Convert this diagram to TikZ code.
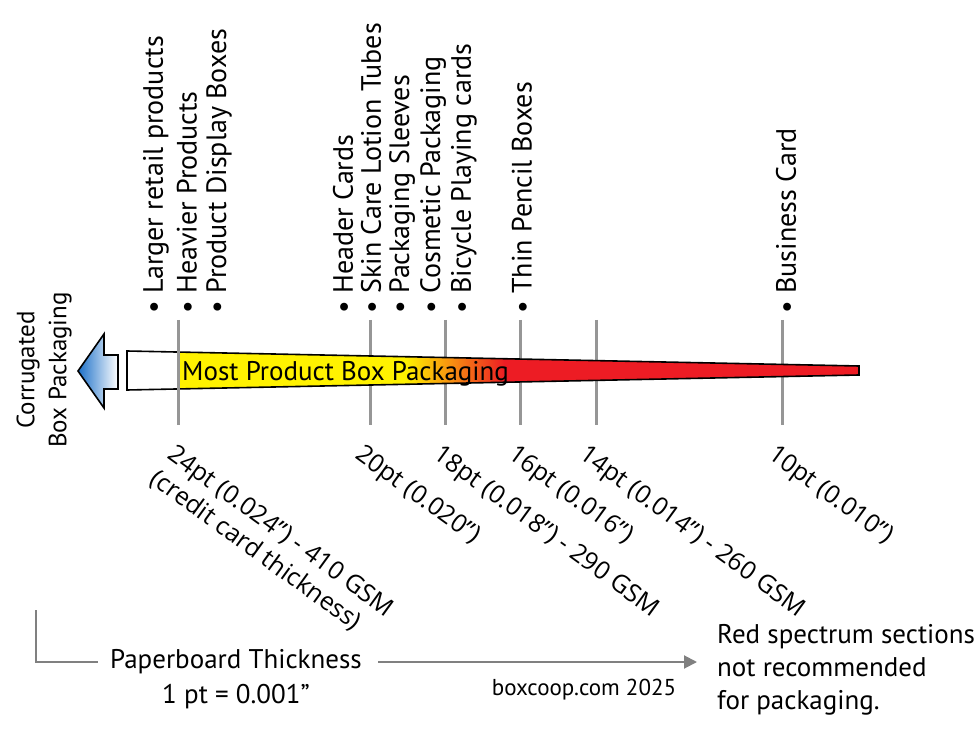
\documentclass[tikz,border=0pt]{standalone}
\usepackage{fontspec}
\setmainfont{PT Sans}
\newfontfamily\gaugefont{Open Sans}
\usepackage{tikz}
\usetikzlibrary{arrows.meta}

\definecolor{tickgray}{RGB}{150,150,150}
\definecolor{scalegray}{RGB}{128,128,128}
\definecolor{boxyellow}{RGB}{255,242,0}
\definecolor{boxred}{RGB}{237,28,36}
\definecolor{arrowblue}{RGB}{28,112,200}

\begin{document}
\begin{tikzpicture}
		[x=1pt,y=-1pt,line cap=round,
		%Styles
		tick line/.style={draw=tickgray,line width=3pt,line cap=butt},
		use label/.style={rotate=90,anchor=west,inner sep=0pt,font=\fontsize{28}{32}\selectfont},
		gauge label/.style={rotate=-36,anchor=north west,inner sep=0pt,align=left,font=\gaugefont\fontsize{25}{30}\selectfont},
		plain text/.style={inner sep=0pt,font=\fontsize{27}{33}\selectfont},
		scale line/.style={draw=scalegray,line width=2pt,line cap=butt},
		outline/.style={draw=black,line width=1.6pt,line join=miter}
		]
		
		\useasboundingbox (0,0) rectangle (980,743);
		
		%The scale ticks (behind the board)
		\foreach \x in {370,445,520,596,782}
			\draw[tick line] (\x,320) -- (\x,425);
		
		%The board wedge
		\begin{scope}
			\clip (127,351) -- (859,366) -- (859,375) -- (127,390) -- cycle;
			\fill[white] (127,340) rectangle (178,400);
			\fill[boxyellow] (177,340) rectangle (406,400);
			\shade[left color=boxyellow,right color=boxred] (405,340) rectangle (505,400);
			\fill[boxred] (504,340) rectangle (860,400);
		\end{scope}
		\draw[outline] (127,351) -- (859,366) -- (859,375) -- (127,390) -- cycle;
		\draw[tick line] (178,320) -- (178,425);
		\node[inner sep=0pt,anchor=base west,font=\fontsize{27}{32}\selectfont] (most) at (182,380) {Most Product Box Packaging};
		
		%Corrugated arrow
		\shadedraw[outline,left color=arrowblue,right color=white] (78,371) -- (104,334) -- (104,355) -- (118,355) -- (118,389) -- (104,389) -- (104,408) -- cycle;
		\node[inner sep=0pt,rotate=90,align=center,font=\fontsize{25}{32}\selectfont] (corr) at (44,370) {Corrugated\\Box Packaging};
		
		%Uses
		\node[use label] (larger) at (156,314) {\textbullet\ Larger retail products};
		\node[use label] (heavier) at (187,314) {\textbullet\ Heavier Products};
		\node[use label] (display) at (219,314) {\textbullet\ Product Display Boxes};
		\node[use label] (header) at (343,314) {\textbullet\ Header Cards};
		\node[use label] (skin) at (371,314) {\textbullet\ Skin Care Lotion Tubes};
		\node[use label] (sleeves) at (402,314) {\textbullet\ Packaging Sleeves};
		\node[use label] (cosmetic) at (433,314) {\textbullet\ Cosmetic Packaging};
		\node[use label] (bicycle) at (464,314) {\textbullet\ Bicycle Playing cards};
		\node[use label] (pencil) at (522,314) {\textbullet\ Thin Pencil Boxes};
		\node[use label] (business) at (786,314) {\textbullet\ Business Card};
		
		%Thickness values
		\node[gauge label] (g24) at (177,443) {24pt (0.024”) - 410 GSM\\(credit card thickness)};
		\node[gauge label] (g20) at (365,443) {20pt (0.020”)};
		\node[gauge label] (g18) at (443,443) {18pt (0.018”) - 290 GSM};
		\node[gauge label] (g16) at (518,443) {16pt (0.016”)};
		\node[gauge label] (g14) at (589,443) {14pt (0.014”) - 260 GSM};
		\node[gauge label] (g10) at (778,443) {10pt (0.010”)};
		
		%Bottom scale
		\coordinate (corner) at (36,610);
		\node[plain text] (thick) at (236,662) {Paperboard Thickness};
		\node[plain text] (unit) at (236,697) {1 pt = 0.001”};
		\node[plain text,anchor=north west,align=left] (note) at (717,624) {Red spectrum sections\\not recommended\\for packaging.};
		\node[inner sep=0pt,font=\fontsize{23}{28}\selectfont] (credit) at (584,690) {boxcoop.com 2025};
		\draw[scale line] (corner) |- ([xshift=-12pt]thick.west);
		\draw[scale line,-{Triangle[length=13pt,width=13pt]},shorten >=20pt] ([xshift=16pt]thick.east) -- (thick.east -| note.west);
	\end{tikzpicture}
\end{document}
